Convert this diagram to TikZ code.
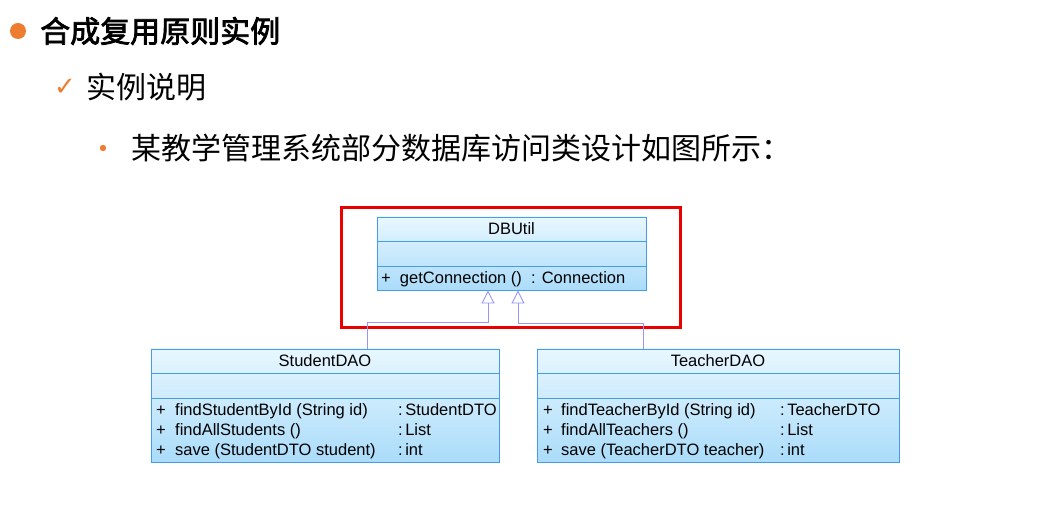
\documentclass[tikz,border=0pt]{standalone}
\usepackage{fontspec}
\setmainfont{Liberation Sans}
\newfontfamily\cjk{Noto Sans CJK SC}
\newfontfamily\cjkbold[FakeBold=2.5]{Noto Sans CJK SC}
\newfontfamily\symfont{DejaVu Sans}
\usetikzlibrary{arrows.meta,calc}
\definecolor{accent}{RGB}{237,125,49}
\definecolor{boxline}{RGB}{70,155,235}
\definecolor{boxtop}{RGB}{232,247,255}
\definecolor{boxbottom}{RGB}{170,220,250}
\definecolor{genline}{RGB}{150,150,250}
\definecolor{frame}{RGB}{235,0,0}
\tikzset{
  cls/.style={draw=boxline, line width=0.9pt, top color=boxtop, bottom color=boxbottom, inner sep=0pt},
  sep/.style={draw=boxline, line width=0.9pt},
  title/.style={font=\fontsize{16.5}{18}\selectfont, inner sep=0pt, anchor=base},
  member/.style={font=\fontsize{16.5}{18}\selectfont, anchor=base west, inner sep=0pt},
  gen/.style={draw=genline, line width=0.9pt, -{Triangle[open, width=13pt, length=13pt, fill=white]}},
  heading/.style={anchor=west, inner sep=0pt}
}
\begin{document}
\begin{tikzpicture}[x=1pt, y=-1pt]
\useasboundingbox[fill=white] (0,0) rectangle (1037,510);

% headings
\fill[accent] (18,31) circle (8);
\node[heading, font=\cjkbold\fontsize{30}{33}\selectfont] (h1) at (40,31) {合成复用原则实例};
\node[anchor=center, inner sep=0pt, text=accent, font=\symfont\fontsize{26}{28}\selectfont] (ck) at (65,87) {✓};
\node[heading, font=\cjk\fontsize{30}{33}\selectfont] (h2) at (86,87) {实例说明};
\fill[accent] (103,148) circle (3.2);
\node[heading, font=\cjk\fontsize{30}{33}\selectfont] (h3) at (131,148) {某教学管理系统部分数据库访问类设计如图所示：};

% highlight frame
\draw[frame, line width=3pt] (341,208) rectangle (680,328);

% DBUtil
\node[cls, minimum width=269pt, minimum height=73pt] (db) at (511.5,253.5) {};
\draw[sep] (377,241) -- (646,241);
\draw[sep] (377,266) -- (646,266);
\node[title] (dbn) at (511.5,235) {DBUtil};
\node[member] (dbm) at (381,284) {+\ \ getConnection ()\ \ : Connection};

% StudentDAO
\node[cls, minimum width=348pt, minimum height=113pt] (sd) at (325,405.5) {};
\draw[sep] (151,373) -- (499,373);
\draw[sep] (151,398) -- (499,398);
\node[title] (sdn) at (325,367) {StudentDAO};
\node[member] (sp1) at (156,416) {+};
\node[member] (sp2) at (156,436) {+};
\node[member] (sp3) at (156,456) {+};
\node[member] (sm1) at (175,416) {findStudentById (String id)};
\node[member] (sm2) at (175,436) {findAllStudents ()};
\node[member] (sm3) at (175,456) {save (StudentDTO student)};
\node[member] (sr1) at (398,416) {:\kern2.5pt StudentDTO};
\node[member] (sr2) at (398,436) {:\kern2.5pt List};
\node[member] (sr3) at (398,456) {:\kern2.5pt int};

% TeacherDAO
\node[cls, minimum width=362pt, minimum height=113pt] (td) at (718,405.5) {};
\draw[sep] (537,373) -- (899,373);
\draw[sep] (537,398) -- (899,398);
\node[title] (tdn) at (718,367) {TeacherDAO};
\node[member] (tp1) at (543,416) {+};
\node[member] (tp2) at (543,436) {+};
\node[member] (tp3) at (543,456) {+};
\node[member] (tm1) at (561,416) {findTeacherById (String id)};
\node[member] (tm2) at (561,436) {findAllTeachers ()};
\node[member] (tm3) at (561,456) {save (TeacherDTO teacher)};
\node[member] (tr1) at (780,416) {:\kern2.5pt TeacherDTO};
\node[member] (tr2) at (780,436) {:\kern2.5pt List};
\node[member] (tr3) at (780,456) {:\kern2.5pt int};

% generalization connectors
\coordinate (sa) at (367,349);
\coordinate (sb) at (488,290);
\coordinate (ta) at (643,349);
\coordinate (tb) at (518,290);
\coordinate (smid) at (0,322);
\coordinate (tmid) at (0,323);
\draw[gen] (sd.north -| sa) -- (sa |- smid) -- (sb |- smid) -- (db.south -| sb);
\draw[gen] (td.north -| ta) -- (ta |- tmid) -- (tb |- tmid) -- (db.south -| tb);
\end{tikzpicture}
\end{document}
